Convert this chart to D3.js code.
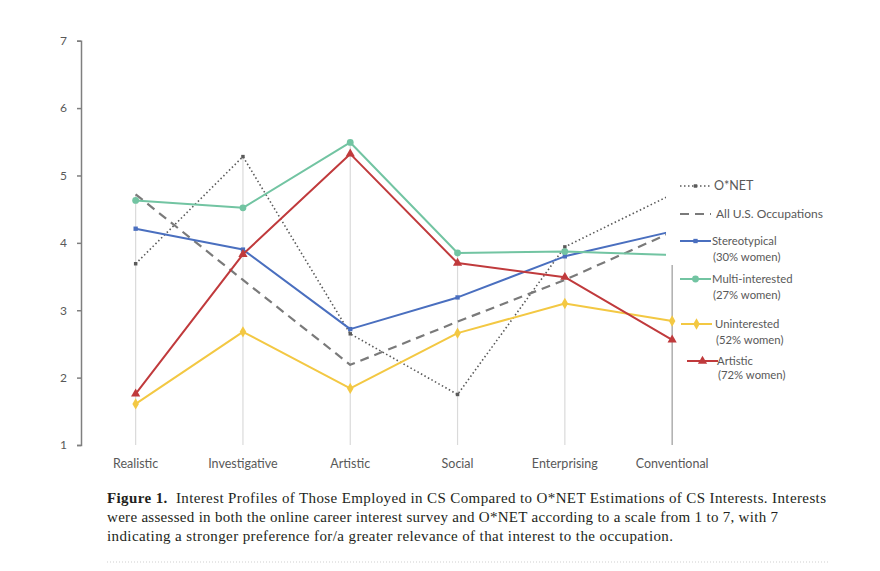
<!DOCTYPE html>
<html>
<head>
<meta charset="utf-8">
<script src="https://cdn.jsdelivr.net/npm/d3@7"></script>
<style>
  body { margin: 0; background: #fff; }
  svg { display: block; }
</style>
</head>
<body>
<svg id="chart"></svg>
<script>
const categories = ["Realistic", "Investigative", "Artistic", "Social", "Enterprising", "Conventional"];
const yTicks = [1, 2, 3, 4, 5, 6, 7];

const onet = [3.69, 5.28, 2.65, 1.75, 3.94, 4.72];
const allUS = [4.72, 3.45, 2.19, 2.83, 3.45, 4.16];
const stereotypical = [4.21, 3.90, 2.72, 3.19, 3.80, 4.17];
const multiInterested = [4.63, 4.52, 5.49, 3.85, 3.87, 3.82];
const uninterested = [1.61, 2.68, 1.84, 2.66, 3.10, 2.84];
const artistic = [1.76, 3.83, 5.32, 3.70, 3.49, 2.56];

const seriesNames = ["O*NET", "All U.S. Occupations", "Stereotypical", "Multi-interested", "Uninterested", "Artistic"];
const seriesNotes = ["", "", "(30% women)", "(27% women)", "(52% women)", "(72% women)"];

const captionLines = [
  "Interest Profiles of Those Employed in CS Compared to O*NET Estimations of CS Interests. Interests",
  "were assessed in both the online career interest survey and O*NET according to a scale from 1 to 7, with 7",
  "indicating a stronger preference for/a greater relevance of that interest to the occupation."
];

const series = [
  { name: seriesNames[0], note: seriesNotes[0], values: onet, color: "#5a5a5a", width: 1.6, dash: "1.5,2.5", marker: "square", size: 4 },
  { name: seriesNames[1], note: seriesNotes[1], values: allUS, color: "#7a7a7a", width: 2.2, dash: "9,6", marker: null },
  { name: seriesNames[2], note: seriesNotes[2], values: stereotypical, color: "#4a6fbf", width: 2, dash: null, marker: "square", size: 5 },
  { name: seriesNames[3], note: seriesNotes[3], values: multiInterested, color: "#72c4a2", width: 2, dash: null, marker: "circle", size: 7 },
  { name: seriesNames[4], note: seriesNotes[4], values: uninterested, color: "#f3c843", width: 2, dash: null, marker: "diamond", size: 7 },
  { name: seriesNames[5], note: seriesNotes[5], values: artistic, color: "#c03a3c", width: 2, dash: null, marker: "triangle", size: 7 }
];

const svg = d3.select("#chart")
  .attr("width", 880)
  .attr("height", 571);

const x = d3.scalePoint()
  .domain(categories)
  .range([82, 725.8])
  .padding(0.5);

const y = d3.scaleLinear()
  .domain([1, 7])
  .range([445, 40.7]);

const labelFont = "Lato, 'Open Sans', sans-serif";
const axisGray = "#7f7f7f";

// drop lines from the highest point of each category
svg.append("g")
  .selectAll("line")
  .data(categories)
  .enter()
  .append("line")
  .attr("x1", d => x(d))
  .attr("x2", d => x(d))
  .attr("y1", (d, i) => y(d3.max(series, s => s.values[i])))
  .attr("y2", y(1))
  .attr("stroke", (d, i) => i === categories.length - 1 ? "#9a9a9a" : "#dadada")
  .attr("stroke-width", 1.2);

// y axis
const yAxis = svg.append("g")
  .attr("transform", "translate(81,0)")
  .call(d3.axisLeft(y).tickValues(yTicks).tickSize(4).tickPadding(10).tickFormat(d3.format("d")));
yAxis.select(".domain").attr("stroke", axisGray).attr("stroke-width", 1.5);
yAxis.selectAll(".tick line").attr("stroke", axisGray).attr("stroke-width", 1.5);
yAxis.selectAll(".tick text")
  .attr("fill", "#595959")
  .style("font-family", labelFont)
  .style("font-size", "12px");

// x labels (no axis line)
svg.append("g")
  .selectAll("text")
  .data(categories)
  .enter()
  .append("text")
  .attr("x", d => x(d))
  .attr("y", 468)
  .attr("text-anchor", "middle")
  .attr("fill", "#595959")
  .style("font-family", labelFont)
  .style("font-size", "12.5px")
  .text(d => d);

const symbolType = {
  square: d3.symbolSquare,
  circle: d3.symbolCircle,
  diamond: d3.symbolDiamond,
  triangle: d3.symbolTriangle
};

function markerPath(s) {
  return d3.symbol().type(symbolType[s.marker]).size(s.size * s.size * 0.75)();
}

const line = d3.line()
  .x((d, i) => x(categories[i]))
  .y(d => y(d));

const plot = svg.append("g");

series.forEach(s => {
  plot.append("path")
    .datum(s.values)
    .attr("fill", "none")
    .attr("stroke", s.color)
    .attr("stroke-width", s.width)
    .attr("stroke-dasharray", s.dash)
    .attr("stroke-linejoin", "round")
    .attr("d", line);

  if (s.marker) {
    plot.append("g")
      .selectAll("path")
      .data(s.values)
      .enter()
      .append("path")
      .attr("transform", (d, i) => `translate(${x(categories[i])},${y(d)})`)
      .attr("d", markerPath(s))
      .attr("fill", s.color);
  }
});

// legend box sits over the right end of the plot
const legend = svg.append("g");
legend.append("rect")
  .attr("x", 666)
  .attr("y", 165)
  .attr("width", 180)
  .attr("height", 100)
  .attr("fill", "#fff");

const legendRows = [
  { y: 186, sx: 680, tx: 714, fs: 12.5 },
  { y: 214, sx: 680, tx: 716, fs: 12 },
  { y: 241, sx: 680, tx: 712, fs: 11.3 },
  { y: 279, sx: 680, tx: 712, fs: 11.3 },
  { y: 324, sx: 681, tx: 715, fs: 11.3 },
  { y: 361, sx: 687, tx: 717, fs: 11.3 }
];

series.forEach((s, i) => {
  const r = legendRows[i];
  const g = legend.append("g");
  g.append("line")
    .attr("x1", r.sx)
    .attr("x2", r.sx + 31)
    .attr("y1", r.y)
    .attr("y2", r.y)
    .attr("stroke", s.color)
    .attr("stroke-width", s.width)
    .attr("stroke-dasharray", s.dash);
  if (s.marker) {
    g.append("path")
      .attr("transform", `translate(${r.sx + 15.5},${r.y})`)
      .attr("d", markerPath(s))
      .attr("fill", s.color);
  }
  g.append("text")
    .attr("x", r.tx)
    .attr("y", r.y + 4)
    .attr("fill", "#595959")
    .style("font-family", labelFont)
    .style("font-size", r.fs + "px")
    .text(s.name);
  if (s.note) {
    g.append("text")
      .attr("x", r.tx + 1)
      .attr("y", r.y + (i === 5 ? 18 : 20))
      .attr("fill", "#595959")
      .style("font-family", labelFont)
      .style("font-size", r.fs + "px")
      .text(s.note);
  }
});

// caption
const caption = svg.append("g")
  .style("font-family", "'Liberation Serif', 'DejaVu Serif', serif")
  .style("font-size", "15px")
  .attr("fill", "#231f20");

const first = caption.append("text")
  .attr("x", 107)
  .attr("y", 503)
  .attr("textLength", 719)
  .attr("lengthAdjust", "spacing");
first.append("tspan").style("font-weight", "bold").text("Figure 1.");
first.append("tspan").text("\u00a0\u00a0" + captionLines[0]);

caption.append("text")
  .attr("x", 107)
  .attr("y", 522)
  .attr("textLength", 671)
  .attr("lengthAdjust", "spacing")
  .text(captionLines[1]);

caption.append("text")
  .attr("x", 107)
  .attr("y", 541)
  .attr("textLength", 566)
  .attr("lengthAdjust", "spacing")
  .text(captionLines[2]);

// dotted rule under the caption
svg.append("line")
  .attr("x1", 107)
  .attr("x2", 830)
  .attr("y1", 562)
  .attr("y2", 562)
  .attr("stroke", "#cfcfcf")
  .attr("stroke-width", 1)
  .attr("stroke-dasharray", "1,2");
</script>
</body>
</html>
